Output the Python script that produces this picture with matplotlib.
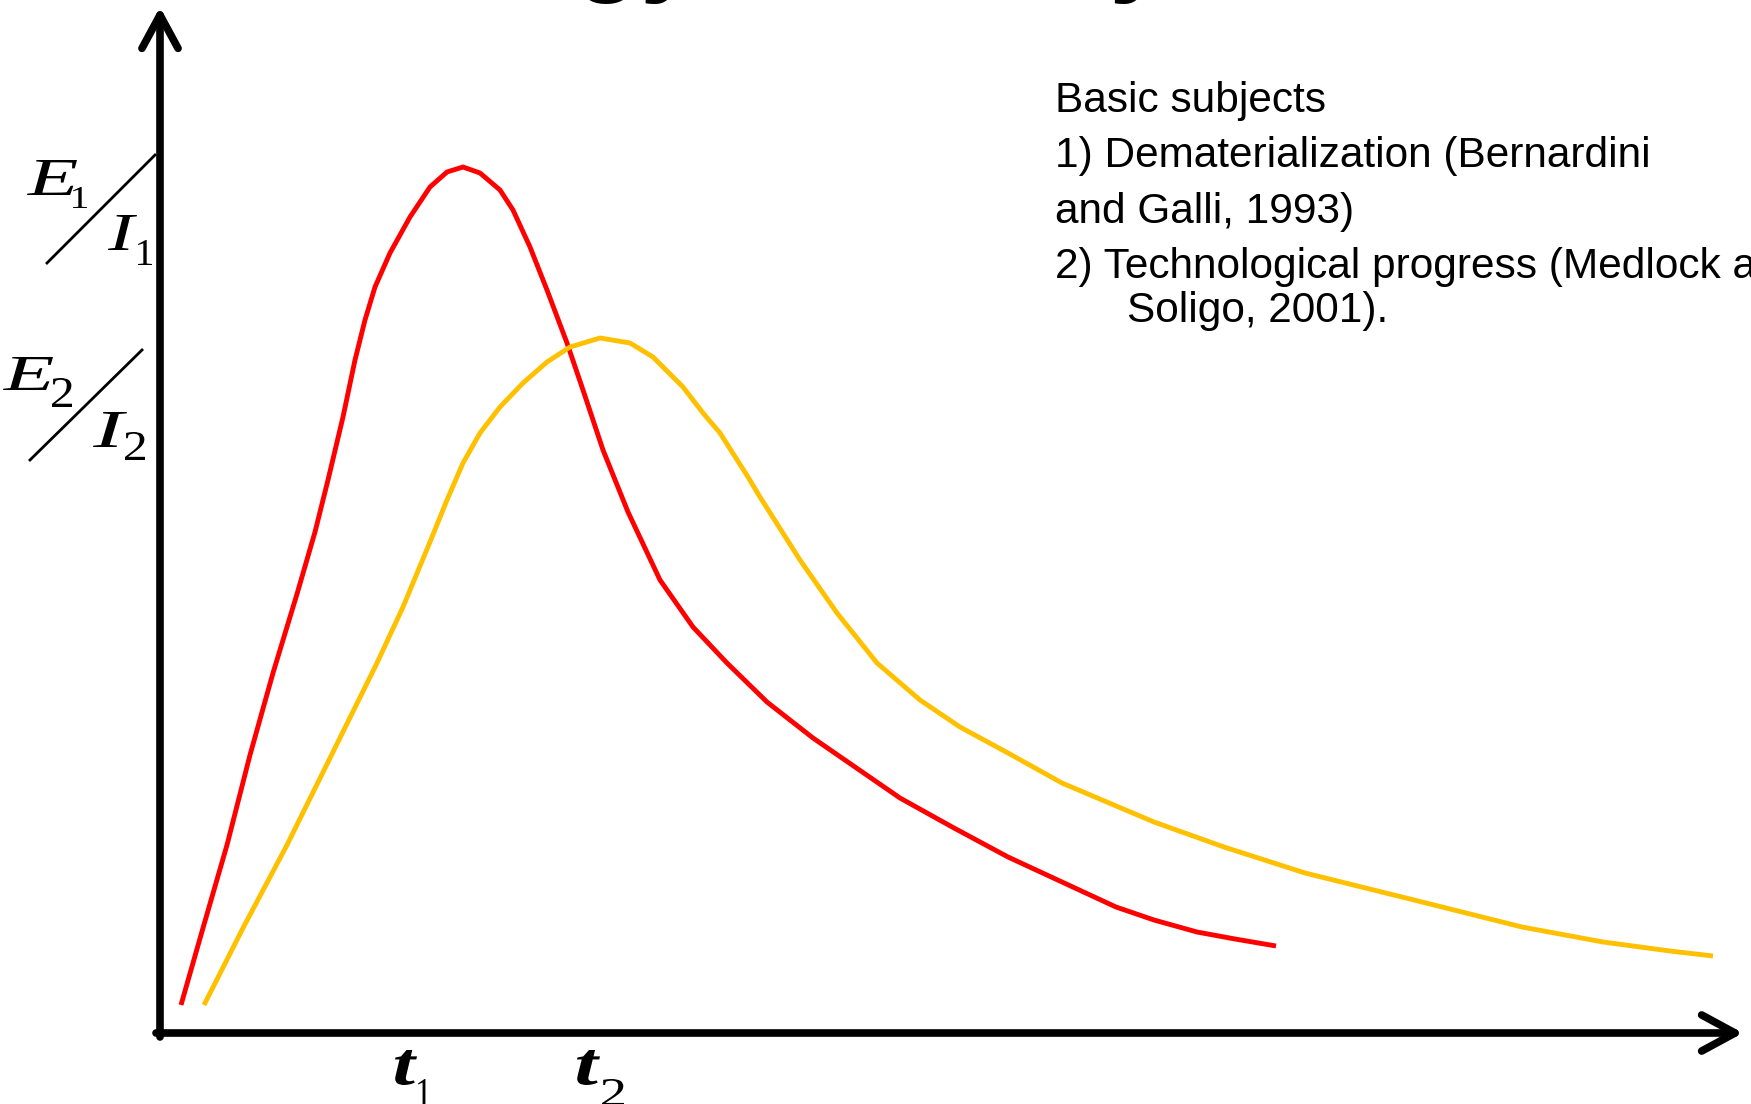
import matplotlib.pyplot as plt
from matplotlib.textpath import TextPath
from matplotlib.patches import PathPatch
from matplotlib.font_manager import FontProperties
from matplotlib.transforms import Affine2D

# E1/I1 curve (red) (time, intensity)
red_t = [21, 43, 67, 90, 113, 137, 155, 168, 183, 195, 205, 215, 230, 250, 270, 287, 303, 320, 340, 353,
         370, 387, 407, 423, 443, 468, 500, 533, 567, 607, 653, 740, 794, 848, 902, 956, 994, 1037, 1075, 1116]
red_v = [28, 105, 188, 278, 360, 439, 501, 553, 616, 673, 713, 746, 780, 816, 846, 861, 866, 860, 843, 823,
         786, 743, 690, 643, 583, 521, 453, 406, 370, 331, 295, 235, 205, 176, 151, 126, 113, 101, 94, 87]

# E2/I2 curve (yellow)
yel_t = [44, 83, 127, 173, 217, 243, 270, 287, 303, 320, 340, 363, 387, 410, 440, 470, 493, 523, 543, 560,
         588, 600, 640, 677, 717, 760, 800, 848, 902, 994, 1064, 1145, 1254, 1362, 1443, 1510, 1553]
yel_v = [28, 105, 188, 281, 370, 426, 491, 533, 570, 600, 626, 650, 671, 686, 695, 690, 676, 646, 620, 600,
         556, 536, 473, 420, 370, 333, 306, 280, 250, 211, 186, 160, 133, 106, 91, 82, 77]

subjects = ['Basic subjects',
            '1) Dematerialization (Bernardini',
            'and Galli, 1993)',
            '2) Technological progress (Medlock and',
            'Soligo, 2001).']

fig = plt.figure(figsize=(17.51, 11.04), dpi=100)
ax = fig.add_axes([0, 0, 1, 1])
ax.set_xlim(-160, 1591)
ax.set_ylim(-71, 1033)
ax.axis('off')


def glyph(s, x0, y0, w, h, **font):
    # draw a letter fitted into a box (the source letters are stretched)
    tp = TextPath((0, 0), s, size=100, prop=FontProperties(**font))
    ext = tp.get_extents()
    tr = Affine2D().translate(-ext.x0, -ext.y0).scale(w / ext.width, h / ext.height).translate(x0, y0)
    ax.add_patch(PathPatch(tr.transform_path(tp), color='black', lw=0))


serif_it = dict(family='Liberation Serif', style='italic')
serif = dict(family='Liberation Serif')

# cut-off title at the top edge
fig.text(0.1925, 1.0162, 'Energy Intensity', fontsize=77, fontweight='bold',
         family='Liberation Sans', va='baseline', ha='left')

# axes with arrows
arr = dict(arrowstyle='->,head_length=1.2,head_width=0.65', lw=5.5, color='black',
           mutation_scale=20, capstyle='round', joinstyle='round', shrinkA=0, shrinkB=0)
ax.annotate('', xy=(1583, 0), xytext=(-4, 0), arrowprops=arr)
ax.annotate('', xy=(0, 1026), xytext=(0, -4), arrowprops=arr)

ax.plot(red_t, red_v, color='#ff0000', lw=3.5, solid_capstyle='butt', solid_joinstyle='round')
ax.plot(yel_t, yel_v, color='#ffc000', lw=3.5, solid_capstyle='butt', solid_joinstyle='round')

# t1, t2 on the time axis
glyph('t', 235, -52, 22, 35, family='Liberation Serif', style='italic', weight='bold')
glyph('1', 258, -73, 12, 27, **serif)
glyph('t', 417, -52, 23, 35, family='Liberation Serif', style='italic', weight='bold')
glyph('2', 442, -73, 22, 27, **serif)

# E/I labels on the intensity axis
ax.plot([-113, -5], [770, 878], color='black', lw=2)
glyph('E', -133, 838, 50, 35, **serif_it)
glyph('1', -87, 825, 14, 21, **serif)
glyph('I', -52, 783, 29, 35, **serif_it)
glyph('1', -22, 768, 14, 25, **serif)

ax.plot([-130, -18], [573, 683], color='black', lw=2)
glyph('E', -157, 643, 50, 33, **serif_it)
glyph('2', -108, 626, 20, 29, **serif)
glyph('I', -67, 586, 34, 35, **serif_it)
glyph('2', -35, 573, 20, 28, **serif)

for line, x, yb in zip(subjects, [895, 895, 895, 895, 967], [921, 866, 810, 755, 711]):
    ax.text(x, yb, line, fontsize=30.5, family='Liberation Sans', va='baseline', ha='left')

fig.savefig('out.png', dpi=100)
